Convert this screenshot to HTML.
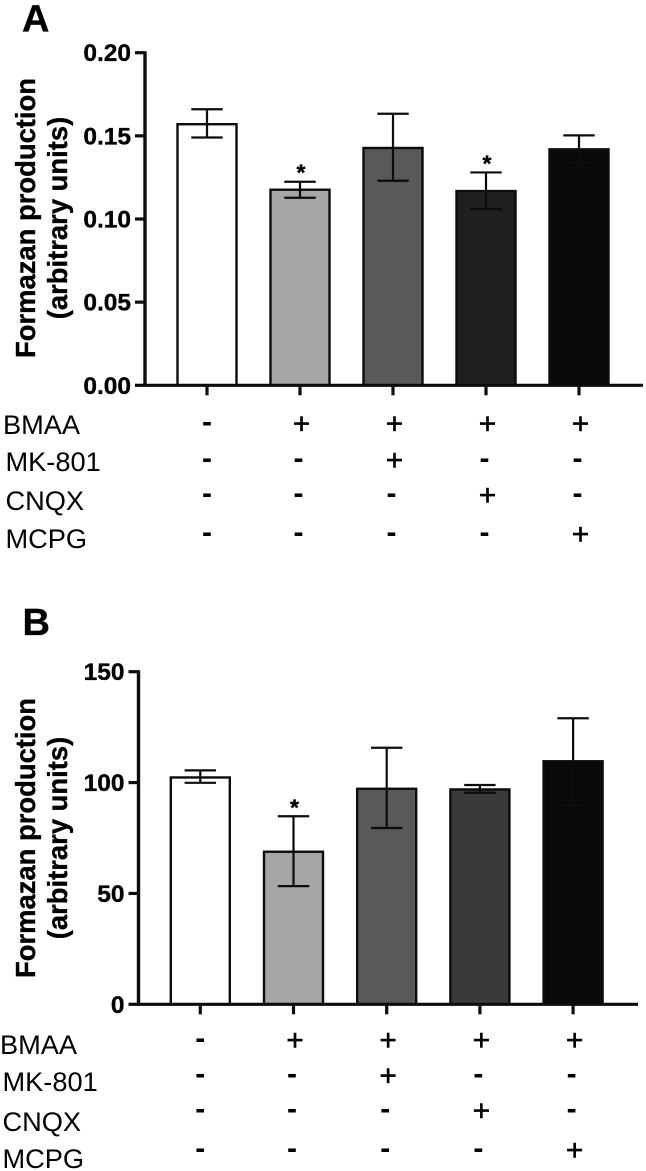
<!DOCTYPE html>
<html lang="en">
<head>
<meta charset="utf-8">
<title>Formazan production bar charts</title>
<style>
html,body{margin:0;padding:0;background:#fff;width:646px;height:1171px;overflow:hidden}
svg{display:block;font-family:"Liberation Sans",Arial,sans-serif}
.bold{font-weight:700;stroke:#000;stroke-width:0.35px}
</style>
</head>
<body>
<svg id="figure" xmlns="http://www.w3.org/2000/svg" width="646" height="1171" viewBox="0 0 646 1171">
  <text class="bold" x="22" y="31.5" font-size="38">A</text>
  <text class="bold" x="22.5" y="635" font-size="38">B</text>
  <g transform="translate(35,218) rotate(-90)">
    <text class="bold" x="0" y="0" font-size="27.4" text-anchor="middle">Formazan production</text>
    <text class="bold" x="0" y="32" font-size="27.4" text-anchor="middle">(arbitrary units)</text>
  </g>
  <g transform="translate(35,838) rotate(-90)">
    <text class="bold" x="0" y="0" font-size="27.4" text-anchor="middle">Formazan production</text>
    <text class="bold" x="0" y="32" font-size="27.4" text-anchor="middle">(arbitrary units)</text>
  </g>
</svg>
<script>
// Shared treatment data
const treatments = ['BMAA', 'MK-801', 'CNQX', 'MCPG'];
const treatmentSigns = [
  ['-', '+', '+', '+', '+'],
  ['-', '-', '+', '-', '-'],
  ['-', '-', '-', '+', '-'],
  ['-', '-', '-', '-', '+']
];
const barFills = ['#ffffff', '#a6a6a6', '#595959', '#1f1f1f', '#0a0a0a'];
const barFillsB = ['#ffffff', '#a6a6a6', '#595959', '#3a3a3a', '#0a0a0a'];

// Panel A data
const ticksA = [0, 0.05, 0.10, 0.15, 0.20];
const tickLabelsA = ['0.00', '0.05', '0.10', '0.15', '0.20'];
const meansA = [0.157, 0.1176, 0.1427, 0.1168, 0.1419];
const errHighA = [0.166, 0.1224, 0.1633, 0.128, 0.1503];
const errLowA = [0.149, 0.1128, 0.123, 0.106, 0.1337];
const starsA = [false, true, false, true, false];

// Panel B data
const ticksB = [0, 50, 100, 150];
const tickLabelsB = ['0', '50', '100', '150'];
const meansB = [102.3, 68.8, 97.2, 96.9, 109.6];
const errHighB = [105.5, 84.8, 115.7, 98.9, 129];
const errLowB = [99.9, 53.3, 79.5, 95.4, 89.9];
const starsB = [false, true, false, false, false];

const svg = document.getElementById('figure');
const NS = 'http://www.w3.org/2000/svg';

function make(tag, attrs, parent) {
  const e = document.createElementNS(NS, tag);
  for (const k in attrs) e.setAttribute(k, attrs[k]);
  parent.appendChild(e);
  return e;
}

function drawLine(parent, x1, y1, x2, y2, w, name) {
  const l = make('line', {x1: x1, y1: y1, x2: x2, y2: y2, stroke: '#0c0c0c', 'stroke-width': w}, parent);
  
  
  return l;
}

function drawPanel(p) {
  const g = make('g', {}, svg);
  
  

  const y = v => p.y0 - (v - p.ticks[0]) / (p.ticks[p.ticks.length - 1] - p.ticks[0]) * (p.y0 - p.yTop);
  const x = i => p.x0 + i * p.step;

  // bars
  p.means.forEach((m, i) => {
    const r = make('rect', {x: x(i) - 29.5, y: y(m), width: 59, height: p.y0 - y(m), fill: p.fills[i], stroke: '#0c0c0c', 'stroke-width': 2.4}, g);
    
    
  });

  // error bars and significance stars
  p.means.forEach((m, i) => {
    drawLine(g, x(i), y(p.errHigh[i]), x(i), y(p.errLow[i]), 2.2, 'error-stem-' + p.id + '-' + (i + 1));
    drawLine(g, x(i) - 15.7, y(p.errHigh[i]), x(i) + 15.7, y(p.errHigh[i]), 2.2, 'error-cap-high-' + p.id + '-' + (i + 1));
    drawLine(g, x(i) - 15.7, y(p.errLow[i]), x(i) + 15.7, y(p.errLow[i]), 2.2, 'error-cap-low-' + p.id + '-' + (i + 1));
    if (p.stars[i]) {
      const s = make('text', {x: x(i) + 1, y: y(p.errHigh[i]) - 1, 'font-size': 23, 'text-anchor': 'middle', 'class': 'bold'}, g);
      s.textContent = '*';
      
      
    }
  });

  // axes
  drawLine(g, p.axisX, p.yTop - 1.5, p.axisX, p.y0 + 1.5, 3.4, 'y-axis-' + p.id);
  drawLine(g, p.axisX, p.y0, p.xEnd, p.y0, 3.2, 'x-axis-' + p.id);
  p.ticks.forEach((t, i) => {
    drawLine(g, p.axisX - 10, y(t), p.axisX, y(t), 3.2, 'y-tick-' + p.id + '-' + i);
    const lab = make('text', {x: p.axisX - 14, y: y(t) + 8.5, 'font-size': 24.5, 'text-anchor': 'end', 'class': 'bold'}, g);
    lab.textContent = p.tickLabels[i];
    
    
  });
  p.means.forEach((m, i) => {
    drawLine(g, x(i), p.y0, x(i), p.y0 + 10, 3.2, 'x-tick-' + p.id + '-' + (i + 1));
  });

  // treatment table
  treatments.forEach((name, r) => {
    const t = make('text', {x: r === 0 ? p.labelX : p.labelX + 2.5, y: p.rowBase[r], 'font-size': 27.2}, g);
    t.textContent = name;
    
    
    treatmentSigns[r].forEach((sign, c) => {
      const plus = sign === '+';
      const st = make('text', {x: x(c) + (plus ? 1.5 : (c === 0 ? 0 : -1.5)), y: p.rowCenter[r] + (plus ? 10 : 8), 'font-size': 30, 'text-anchor': 'middle', 'font-weight': plus ? 400 : 700, stroke: '#000', 'stroke-width': plus ? 0.5 : 0}, g);
      st.textContent = sign;
      
      
    });
  });
}

drawPanel({
  id: 'a', ticks: ticksA, tickLabels: tickLabelsA, means: meansA, errHigh: errHighA, errLow: errLowA,
  stars: starsA, fills: barFills,
  y0: 385.3, yTop: 52.7, axisX: 145, xEnd: 643, x0: 207, step: 93,
  labelX: 3, rowBase: [434, 471, 510, 548], rowCenter: [423.5, 460, 495, 534]
});

drawPanel({
  id: 'b', ticks: ticksB, tickLabels: tickLabelsB, means: meansB, errHigh: errHighB, errLow: errLowB,
  stars: starsB, fills: barFillsB,
  y0: 1004.3, yTop: 671.7, axisX: 138.5, xEnd: 638, x0: 200.3, step: 93.2,
  labelX: 0, rowBase: [1054, 1091, 1131, 1168], rowCenter: [1040, 1075.5, 1110.5, 1150]
});
</script>
</body>
</html>
